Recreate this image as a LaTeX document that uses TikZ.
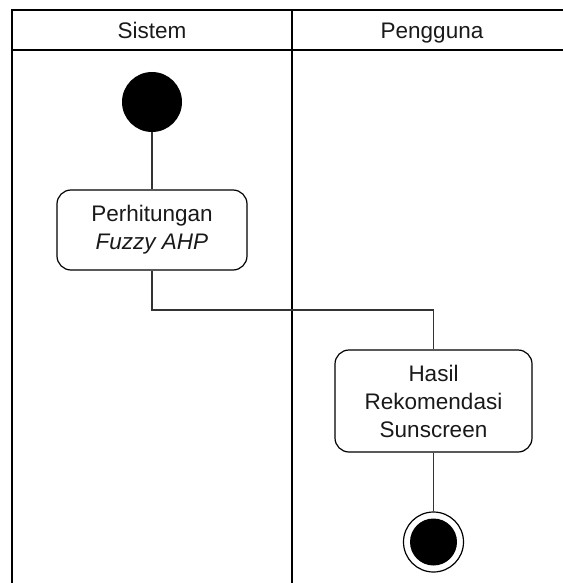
\documentclass[tikz,border=0pt]{standalone}
\usepackage{fontspec}
\setmainfont{Liberation Sans}
\begin{document}
\begin{tikzpicture}[x=1pt,y=-1pt,
  lane/.style={draw=black, line width=1.3pt},
  action/.style={draw=black, line width=1.2pt, rounded corners=14pt, fill=white,
    align=center, text=black!90, inner sep=0pt,
    font=\fontsize{22.5}{28}\selectfont},
  flow/.style={draw=black!80, line width=1.2pt},
  lanehead/.style={font=\fontsize{22.5}{26}\selectfont, text=black!90, inner sep=0pt, anchor=base}
]
\useasboundingbox (0,0) rectangle (562,583);

% swimlanes
\draw[lane] (12,583) -- (12,10) -- (575,10);
\draw[lane] (12,50) -- (575,50);
\draw[lane] (292,10) -- (292,583);
\node[lanehead] (hsys) at (152,38.5) {Sistem};
\node[lanehead] (husr) at (432,38.5) {Pengguna};

% start
\node[circle, fill=black, minimum size=60pt, inner sep=0pt] (start) at (152,102) {};

% actions
\node[action, minimum width=190pt, minimum height=80pt] (calc) at (152,230)
  {Perhitungan\\\textit{Fuzzy AHP}};
\node[action, minimum width=197pt, minimum height=102pt] (res) at (433.5,401)
  {Hasil\\Rekomendasi\\Sunscreen};

% end
\node[circle, draw=black, line width=1.2pt, fill=white, minimum size=60pt, inner sep=0pt] (stop) at (433.5,542) {};
\node[circle, fill=black, minimum size=47pt, inner sep=0pt] (stopin) at (stop.center) {};

% flow
\draw[flow] (start.south) -- (calc.north);
\draw[flow] (calc.south) |- (433.5,310) -- (res.north);
\draw[flow] (res.south) -- (stop.north);
\end{tikzpicture}
\end{document}
